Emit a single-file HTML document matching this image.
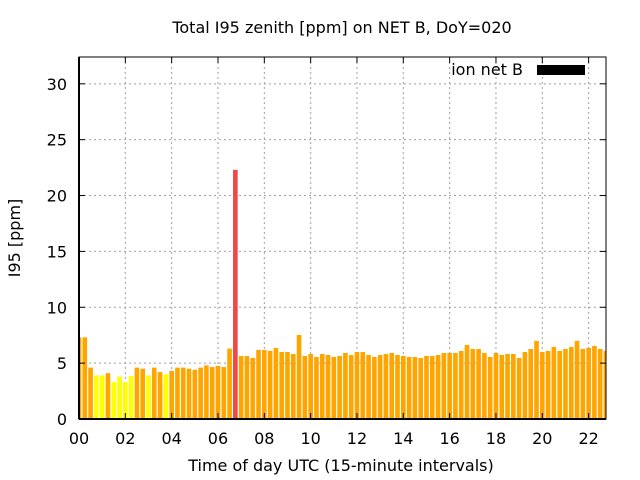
<!DOCTYPE html>
<html><head><meta charset="utf-8"><style>
body{margin:0;background:#fff;}
svg{display:block;font-family:"DejaVu Sans","Liberation Sans",sans-serif;}
</style></head><body>
<svg id="chart" width="640" height="480" viewBox="0 0 640 480">
<text x="342" y="33" font-size="16" text-anchor="middle">Total I95 zenith [ppm] on NET B, DoY=020</text>
<g id="grid"></g>
<g id="bars"></g>
<g id="axes"></g>
<text transform="translate(20,238) rotate(-90)" font-size="16" text-anchor="middle">I95 [ppm]</text>
<text x="341" y="471" font-size="16" text-anchor="middle">Time of day UTC (15-minute intervals)</text>
<g>
<text x="523" y="75" font-size="16" text-anchor="end">ion net B</text>
<rect x="537" y="65" width="48" height="10" fill="#000"/>
</g>
</svg>
<script>
const hours = [];
const values = [7.3,7.3,4.6,3.9,3.9,4.1,3.3,3.8,3.3,3.85,4.6,4.5,3.9,4.6,4.2,4.0,4.3,4.6,4.6,4.5,4.4,4.6,4.8,4.65,4.75,4.65,6.3,22.3,5.64,5.64,
5.46,6.18,6.18,6.09,6.36,6.0,6.0,5.82,7.52,5.64,5.82,5.55,5.82,5.73,5.55,5.64,5.91,5.73,6.0,6.0,5.73,5.55,5.73,5.82,5.91,5.73,5.64,5.55,5.55,5.46,
5.64,5.64,5.73,5.91,5.91,5.91,6.09,6.63,6.27,6.27,5.91,5.55,5.91,5.73,5.82,5.82,5.46,6.0,6.27,6.99,6.0,6.09,6.45,6.09,6.27,6.45,6.99,6.27,6.36,6.54,6.27,6.09];
for (let i = 0; i < values.length; i++) hours.push(i * 0.25);
const yTicks = [0,5,10,15,20,25,30];
const xTicks = [0,2,4,6,8,10,12,14,16,18,20,22];
const xTickLabels = ["00","02","04","06","08","10","12","14","16","18","20","22"];

const L=79,R=606,T=57,B=419,XMAX=22.75,YMAX=32.4;
const xs=h=>L+(h/XMAX)*(R-L);
const ys=v=>B-(v/YMAX)*(B-T);
const NS="http://www.w3.org/2000/svg";
function mk(tag,attrs,parent){const e=document.createElementNS(NS,tag);for(const k in attrs)e.setAttribute(k,attrs[k]);parent.appendChild(e);return e;}
const grid=document.getElementById('grid'),bars=document.getElementById('bars'),axes=document.getElementById('axes');

yTicks.forEach(t=>{
  const y=ys(t);
  if(t>0){const g=mk('line',{x1:L,x2:R,y1:y,y2:y,stroke:'#a0a0a0','stroke-dasharray':'2,3'},grid);
  
  }
  const tl=mk('text',{x:L-12,y:y+6,'font-size':16,'text-anchor':'end'},axes);
  tl.textContent=t;
  
  
  mk('line',{x1:L,x2:L+6,y1:y,y2:y,stroke:'#000'},axes);
  mk('line',{x1:R,x2:R-6,y1:y,y2:y,stroke:'#000'},axes);
});
xTicks.forEach((t,i)=>{
  const x=xs(t);
  if(t>0){const g=mk('line',{x1:x,x2:x,y1:T,y2:B,stroke:'#a0a0a0','stroke-dasharray':'2,3'},grid);
  
  }
  const tl=mk('text',{x:x,y:444,'font-size':16,'text-anchor':'middle'},axes);
  tl.textContent=xTickLabels[i];
  
  
  mk('line',{x1:x,x2:x,y1:B,y2:B-6,stroke:'#000'},axes);
  mk('line',{x1:x,x2:x,y1:T,y2:T+6,stroke:'#000'},axes);
});
const clip=mk('clipPath',{id:'pc'},document.getElementById('chart'));
mk('rect',{x:L,y:T,width:R-L,height:B-T},clip);
bars.setAttribute('clip-path','url(#pc)');
const bw=(R-L)/XMAX*0.25*0.8;
values.forEach((v,i)=>{
  const x=xs(hours[i]);
  const col=v>20?'#f04848':(v<4.05?'#ffff00':'#ffa500');
  const r=mk('rect',{x:x-bw/2,y:ys(v),width:bw,height:B-ys(v),fill:col},bars);
  
  
});
const f=mk('rect',{x:L,y:T,width:R-L,height:B-T,fill:'none',stroke:'#000','stroke-width':1},axes);


mk('line',{x1:L,x2:R,y1:B,y2:B,stroke:'#000','stroke-width':2},axes);
mk('line',{x1:L,x2:L,y1:T,y2:B,stroke:'#000','stroke-width':2},axes);
</script>
</body></html>
